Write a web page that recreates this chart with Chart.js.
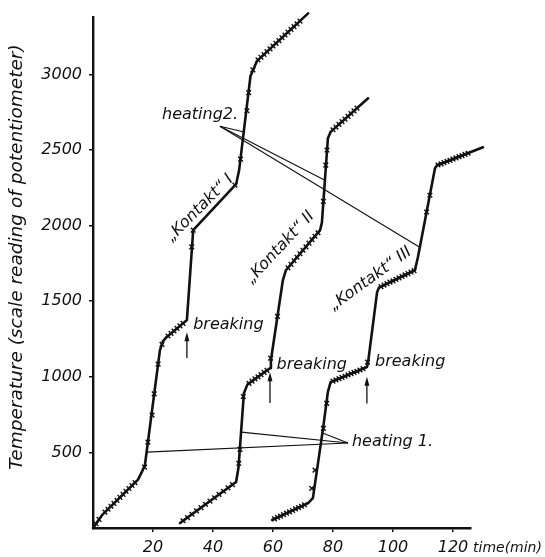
<!DOCTYPE html>
<html>
<head>
<meta charset="utf-8">
<script src="https://cdn.jsdelivr.net/npm/chart.js@4/dist/chart.umd.min.js"></script>
<style>
  body { margin: 0; background: #fff; }
  #grafico { display: block; }
</style>
</head>
<body>
<canvas id="grafico" width="545" height="557"></canvas>
<script>
// Ticks of both axes
const timeTicks = [20, 40, 60, 80, 100, 120];
const tempTicks = [500, 1000, 1500, 2000, 2500, 3000];

// Curve "Kontakt" I (line path and the measured points)
const curve1Time = [0, 3, 15, 16.5, 17.3, 22.3, 23.3, 24.5, 31.3, 33.4, 47.7, 48.7, 52.5, 54.7, 71.7];
const curve1Temp = [0, 85, 320, 380, 416, 1175, 1235, 1262, 1375, 1970, 2274, 2366, 2990, 3090, 3404];
const marks1Time = [1, 2, 4, 5, 6, 7, 8, 9, 10, 11, 12, 13, 14, 17.2, 18.3, 19.7, 20.4, 21.7, 23, 25, 26, 27, 28, 29, 30,
    32.9, 33.4, 47.3, 49.2, 51.3, 51.9, 53.3, 55, 56, 57, 58, 59, 60, 61, 62, 63, 64, 65, 66, 67, 68, 69];
const marks1Temp = [28, 57, 105, 124, 144, 163, 183, 203, 222, 242, 261, 281, 300, 403, 568, 747, 887, 1084, 1215, 1270, 1287, 1303, 1320, 1337, 1353,
    1859, 1970, 2268, 2440, 2760, 2880, 3030, 3096, 3114, 3132, 3151, 3169, 3188, 3206, 3224, 3243, 3261, 3280, 3298, 3316, 3335, 3353];

// Curve "Kontakt" II
const curve2Time = [29, 47.7, 48.5, 50.3, 51.5, 59, 59.3, 63.3, 64.3, 75.7, 76.3, 78.3, 79.2, 91.7];
const curve2Temp = [33, 304, 400, 892, 950, 1057, 1110, 1640, 1705, 1970, 2020, 2578, 2620, 2842];
const marks2Time = [30, 31.5, 33, 34.5, 36, 37.5, 39, 40.5, 42, 43.5, 45, 46.5, 48.6, 49, 50.1, 52, 53, 54, 55, 56, 57, 58, 59.2, 61.5,
    65, 66, 67, 68, 69, 70, 71, 72, 73, 74, 75, 76.8, 77.6, 78, 80, 81, 82, 83, 84, 85, 86, 87, 88];
const marks2Temp = [48, 69, 91, 113, 135, 156, 178, 200, 222, 243, 265, 287, 428, 520, 870, 957, 971, 986, 1000, 1014, 1029, 1043, 1124, 1400,
    1721, 1744, 1768, 1791, 1814, 1837, 1860, 1884, 1907, 1930, 1953, 2160, 2400, 2500, 2634, 2652, 2670, 2688, 2705, 2723, 2741, 2759, 2777];

// Curve "Kontakt" III
const curve3Time = [59.7, 71.7, 73.3, 76.7, 78.3, 79.2, 91.3, 91.7, 94.7, 95.3, 107.3, 108.3, 114, 114.7, 130];
const curve3Temp = [53, 165, 198, 661, 900, 965, 1064, 1097, 1560, 1590, 1705, 1791, 2379, 2399, 2518];
const marks3Time = [60.5, 61.5, 62.5, 63.5, 64.5, 65.5, 66.5, 67.5, 68.5, 69.5, 70.5, 72.9, 74, 76.8, 77.9,
    80, 81, 82, 83, 84, 85, 86, 87, 88, 89, 90, 91.5, 96, 97, 98, 99, 100, 101, 102, 103, 104, 105, 106, 107,
    111.2, 112.3, 115, 116, 117, 118, 119, 120, 121, 122, 123, 124, 125];
const marks3Temp = [60, 70, 79, 88, 98, 107, 116, 126, 135, 144, 154, 262, 383, 659, 824,
    972, 980, 988, 996, 1004, 1013, 1021, 1029, 1037, 1045, 1054, 1097, 1597, 1606, 1616, 1626, 1635, 1645, 1654, 1664, 1674, 1683, 1693, 1702,
    2090, 2201, 2401, 2409, 2417, 2425, 2432, 2440, 2448, 2456, 2463, 2471, 2479];

// Leader lines "heating 1." and "heating 2."
const heating1Tip = [85, 562];
const heating1Time = [17.9, 49.4, 76.5];
const heating1Temp = [502, 634, 628];
const heating2Tip = [42.3, 2657];
const heating2Time = [50.3, 77.3, 108.9];
const heating2Temp = [2619, 2300, 1857];

// "breaking" arrows
const breakTime = [31.3, 59, 91.3];
const breakFrom = [1124, 826, 824];
const breakTo = [1295, 1031, 1000];

// Texts
const breakLabelTime = [33.4, 61.2, 94];
const breakLabelTemp = [1342, 1077, 1099];
const kontaktText = ['\u201EKontakt\u201C I', '\u201EKontakt\u201C II', '\u201EKontakt\u201C III'];
const kontaktTime = [35.6, 62.4, 92.5];
const kontaktTemp = [2115, 1855, 1648];
const kontaktAngle = [-45, -47, -36];

const familia = '"DejaVu Sans", sans-serif';
const tinta = '#111';

function toPoints(times, temps) {
    return times.map((t, i) => ({ x: t, y: temps[i] }));
}

function curveDataset(times, temps) {
    return {
        type: 'line',
        data: toPoints(times, temps),
        borderColor: tinta,
        borderWidth: 2.6,
        borderJoinStyle: 'round',
        borderCapStyle: 'round',
        pointRadius: 0,
        tension: 0,
        clip: false
    };
}

function marksDataset(times, temps) {
    return {
        type: 'scatter',
        data: toPoints(times, temps),
        pointStyle: 'crossRot',
        pointRadius: 3.3,
        borderColor: tinta,
        borderWidth: 1.4,
        showLine: false,
        clip: false
    };
}

// Annotations drawn on top of the curves
const anotaciones = {
    id: 'anotaciones',
    afterDatasetsDraw(chart) {
        const { ctx, scales: { x, y } } = chart;
        const px = t => x.getPixelForValue(t);
        const py = v => y.getPixelForValue(v);
        ctx.save();
        ctx.strokeStyle = tinta;
        ctx.fillStyle = tinta;
        ctx.lineWidth = 1.1;

        function leaders(tip, times, temps) {
            times.forEach((t, i) => {
                ctx.beginPath();
                ctx.moveTo(px(tip[0]), py(tip[1]));
                ctx.lineTo(px(t), py(temps[i]));
                ctx.stroke();
            });
        }
        leaders(heating1Tip, heating1Time, heating1Temp);
        leaders(heating2Tip, heating2Time, heating2Temp);

        // arrows pointing at the breaking moment
        breakTime.forEach((t, i) => {
            const xp = px(t);
            const y0 = py(breakFrom[i]);
            const y1 = py(breakTo[i]);
            ctx.lineWidth = 1.3;
            ctx.beginPath();
            ctx.moveTo(xp, y0);
            ctx.lineTo(xp, y1 + 6);
            ctx.stroke();
            ctx.beginPath();
            ctx.moveTo(xp, y1);
            ctx.lineTo(xp - 2.5, y1 + 9);
            ctx.lineTo(xp + 2.5, y1 + 9);
            ctx.closePath();
            ctx.fill();
        });

        ctx.font = 'italic 16px ' + familia;
        ctx.textBaseline = 'middle';
        ctx.textAlign = 'left';
        breakLabelTime.forEach((t, i) => {
            ctx.fillText('breaking', px(t), py(breakLabelTemp[i]));
        });
        ctx.fillText('heating2.', px(23), py(2730));
        ctx.fillText('heating 1.', px(86.3), py(568));

        kontaktText.forEach((txt, i) => {
            ctx.save();
            ctx.translate(px(kontaktTime[i]), py(kontaktTemp[i]));
            ctx.rotate(kontaktAngle[i] * Math.PI / 180);
            ctx.textAlign = 'center';
            ctx.fillText(txt, 0, 0);
            ctx.restore();
        });

        // axis titles
        ctx.font = 'italic 14px ' + familia;
        ctx.fillText('time(min)', 473, 548);
        ctx.save();
        ctx.translate(17, 257);
        ctx.rotate(-Math.PI / 2);
        ctx.textAlign = 'center';
        ctx.font = 'italic 18.5px ' + familia;
        ctx.fillText('Temperature (scale reading of potentiometer)', 0, 0);
        ctx.restore();

        ctx.restore();
    }
};

const ejeComun = {
    type: 'linear',
    grid: { display: true, drawOnChartArea: false, drawTicks: true, tickLength: 4, color: tinta, lineWidth: 1.5 },
    border: { display: true, color: tinta, width: 2.4 },
    ticks: {
        color: tinta,
        font: { family: familia, size: 16, style: 'italic' },
        autoSkip: false,
        maxRotation: 0,
        callback: v => String(v)
    }
};

const ctx = document.getElementById('grafico').getContext('2d');
const grafico = new Chart(ctx, {
    data: {
        datasets: [
            curveDataset(curve1Time, curve1Temp),
            curveDataset(curve2Time, curve2Temp),
            curveDataset(curve3Time, curve3Temp),
            marksDataset(marks1Time, marks1Temp),
            marksDataset(marks2Time, marks2Temp),
            marksDataset(marks3Time, marks3Temp)
        ]
    },
    options: {
        responsive: false,
        animation: false,
        layout: { padding: { left: 0, right: 74, top: 17, bottom: 0 } },
        plugins: { legend: { display: false }, tooltip: { enabled: false } },
        scales: {
            x: {
                ...ejeComun,
                min: 0,
                max: 126,
                ticks: { ...ejeComun.ticks, padding: 6 },
                afterBuildTicks: s => { s.ticks = timeTicks.map(v => ({ value: v })); },
                afterFit: s => { s.height = 29; }
            },
            y: {
                ...ejeComun,
                min: 0,
                max: 3380,
                ticks: { ...ejeComun.ticks, padding: 7 },
                afterBuildTicks: s => { s.ticks = tempTicks.map(v => ({ value: v })); },
                afterFit: s => { s.width = 93; }
            }
        }
    },
    plugins: [anotaciones]
});
</script>
</body>
</html>
